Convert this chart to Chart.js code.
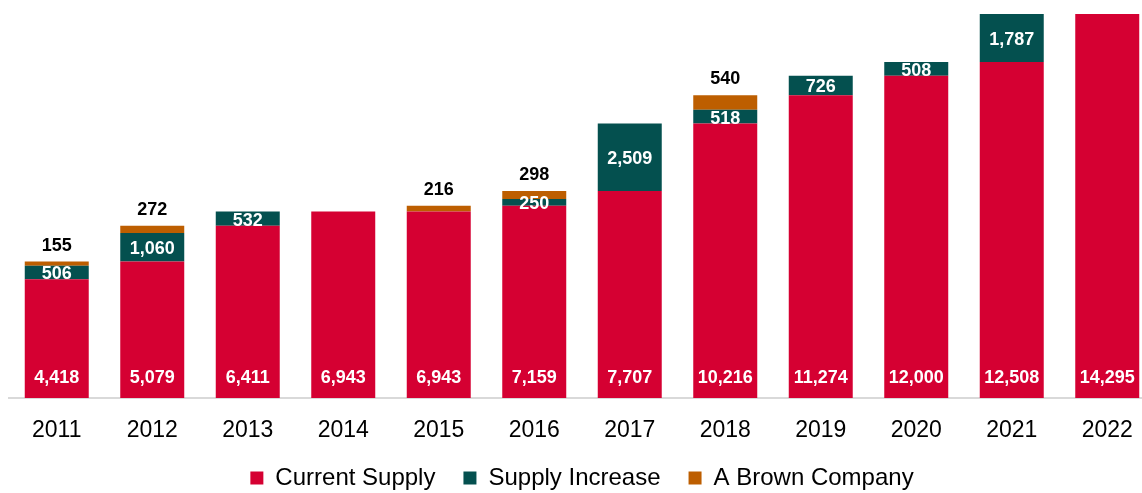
<!DOCTYPE html>
<html lang="en">
<head>
    <meta charset="UTF-8">
    <title>Supply by Year</title>
    <script src="https://cdn.jsdelivr.net/npm/chart.js"></script>
    <style>
        body { margin: 0; background: #fff; overflow: hidden; }
        .wrap { width: 1160px; height: 493px; position: relative; }
    </style>
</head>
<body>
    <div class="wrap"><canvas id="supplyChart"></canvas></div>

    <script>
        const years = ['2011', '2012', '2013', '2014', '2015', '2016', '2017', '2018', '2019', '2020', '2021', '2022'];
        const currentSupply = [4418, 5079, 6411, 6943, 6943, 7159, 7707, 10216, 11274, 12000, 12508, 14295];
        const supplyIncrease = [506, 1060, 532, null, null, 250, 2509, 518, 726, 508, 1787, null];
        const brownCompany = [155, 272, null, null, 216, 298, null, 540, null, null, null, null];

        const fmt = v => v.toLocaleString('en-US');

        // draws the value labels the way the original shows them
        const valueLabels = {
            id: 'valueLabels',
            afterDatasetsDraw(chart) {
                const ctx = chart.ctx;
                ctx.save();
                ctx.font = 'bold 18px "Liberation Sans", Arial, sans-serif';
                ctx.textAlign = 'center';
                chart.data.datasets.forEach((ds, i) => {
                    const meta = chart.getDatasetMeta(i);
                    meta.data.forEach((bar, j) => {
                        const v = ds.data[j];
                        if (v == null) return;
                        if (i === 0) {
                            ctx.fillStyle = '#ffffff';
                            ctx.textBaseline = 'middle';
                            ctx.fillText(fmt(v), bar.x, bar.base - 20);
                        } else if (i === 1) {
                            ctx.fillStyle = '#ffffff';
                            ctx.textBaseline = 'middle';
                            ctx.fillText(fmt(v), bar.x, (bar.y + bar.base) / 2 + 2);
                        } else {
                            ctx.fillStyle = '#000000';
                            ctx.textBaseline = 'bottom';
                            ctx.fillText(fmt(v), bar.x, bar.y - 7);
                        }
                    });
                });
                ctx.restore();
            }
        };

        new Chart(document.getElementById('supplyChart').getContext('2d'), {
            type: 'bar',
            data: {
                labels: years,
                datasets: [
                    { label: 'Current Supply', data: currentSupply, backgroundColor: '#D50032' },
                    { label: 'Supply Increase', data: supplyIncrease, backgroundColor: '#04504F' },
                    { label: 'A Brown Company', data: brownCompany, backgroundColor: '#BD5E00' }
                ]
            },
            options: {
                responsive: true,
                maintainAspectRatio: false,
                animation: false,
                layout: { padding: { left: 9, right: 5, top: 0, bottom: -7 } },
                datasets: { bar: { barPercentage: 0.67, categoryPercentage: 1.0 } },
                plugins: {
                    legend: {
                        position: 'bottom',
                        labels: {
                            boxWidth: 13,
                            boxHeight: 13,
                            padding: 28,
                            color: '#000',
                            font: { family: '"Liberation Sans", Arial, sans-serif', size: 24 }
                        }
                    },
                    tooltip: { enabled: false },
                    title: { display: false }
                },
                scales: {
                    x: {
                        stacked: true,
                        grid: { display: false },
                        border: { display: true, color: '#D9D9D9', width: 2 },
                        ticks: {
                            color: '#000',
                            padding: 11,
                            font: { family: '"Liberation Sans", Arial, sans-serif', size: 23 }
                        },
                        afterFit: scale => { scale.height = 40; }
                    },
                    y: {
                        stacked: true,
                        display: false,
                        min: 0,
                        max: 14816
                    }
                }
            },
            plugins: [valueLabels]
        });
    </script>
</body>
</html>
